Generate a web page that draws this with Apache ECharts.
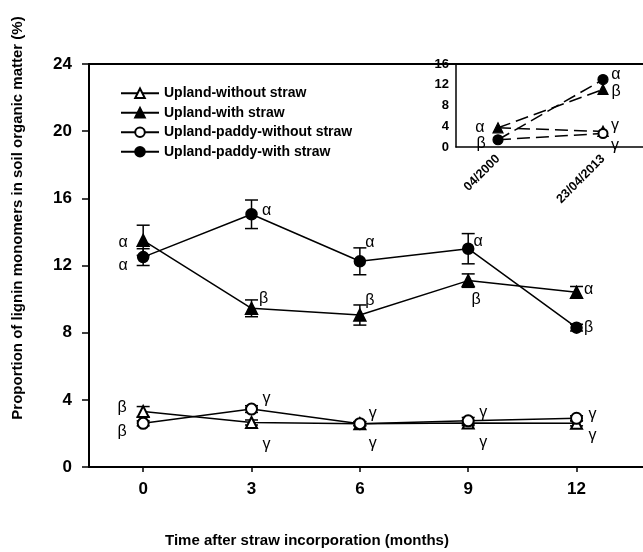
<!DOCTYPE html>
<html>
<head>
<meta charset="utf-8">
<script src="https://cdn.jsdelivr.net/npm/echarts@6/dist/echarts.min.js"></script>
<style>
  html, body { margin: 0; padding: 0; background: #fff; }
  #chart { width: 643px; height: 552px; }
</style>
</head>
<body>
<div id="chart"></div>
<script>
// data
var months = [0, 3, 6, 9, 12];
var upWithout = [3.3, 2.65, 2.58, 2.62, 2.6];
var upWithoutErr = [0.3, 0.15, 0.12, 0.15, 0.15];
var upWith = [13.5, 9.45, 9.05, 11.1, 10.4];
var upWithErr = [0.9, 0.5, 0.6, 0.4, 0.35];
var padWithout = [2.6, 3.45, 2.58, 2.75, 2.9];
var padWithoutErr = [0.15, 0.2, 0.12, 0.2, 0.15];
var padWith = [12.5, 15.05, 12.25, 13.0, 8.3];
var padWithErr = [0.5, 0.85, 0.8, 0.9, 0.2];

var upWithoutLetters = ['β', 'γ', 'γ', 'γ', 'γ'];
var upWithLetters = ['α', 'β', 'β', 'β', 'α'];
var padWithoutLetters = ['β', 'γ', 'γ', 'γ', 'γ'];
var padWithLetters = ['α', 'α', 'α', 'α', 'β'];

// inset: 04/2000 vs 23/04/2013
var insetDates = ['04/2000', '23/04/2013'];
var insetUpWithout = [3.7, 3.0];
var insetUpWith = [3.7, 11.1];
var insetPadWithout = [1.4, 2.6];
var insetPadWith = [1.4, 13.0];
var insetLetters2000 = ['α', 'β'];       // upland, upland-paddy
var insetLetters2013 = ['α', 'β', 'γ', 'γ']; // padWith, upWith, upWithout, padWithout

var names = ['Upland-without straw', 'Upland-with straw', 'Upland-paddy-without straw', 'Upland-paddy-with straw'];
var yTitle = 'Proportion of lignin monomers in soil organic matter (%)';
var xTitle = 'Time after straw incorporation (months)';

var chart = echarts.init(document.getElementById('chart'));
var FONT = 'Liberation Sans';

// label offsets (px) for the significance letters
var offs = {
    upWithout: [[-21, -4], [15, 22], [13, 20], [15, 20], [16, 12]],
    upWith: [[-20, 2], [12, -10], [10, -14], [8, 19], [12, -3]],
    padWithout: [[-21, 8], [15, -10], [13, -10], [15, -8], [16, -4]],
    padWith: [[-20, 8], [15, -4], [10, -19], [10, -7], [12, 0]]
};

function letterLabel(txt, off) {
    return {
        show: true, formatter: txt, position: 'inside', offset: off,
        color: '#000', fontSize: 16, fontFamily: FONT, fontWeight: 'normal'
    };
}

function mainData(vals, letters, off) {
    return vals.map(function (v, i) {
        return { value: [months[i], v], label: letterLabel(letters[i], off[i]) };
    });
}

function errData(vals, errs) {
    return vals.map(function (v, i) { return [months[i], v - errs[i], v + errs[i]]; });
}

function errSeries(vals, errs) {
    return {
        type: 'custom', xAxisIndex: 0, yAxisIndex: 0, z: 1, silent: true,
        data: errData(vals, errs),
        renderItem: function (params, api) {
            var lo = api.coord([api.value(0), api.value(1)]);
            var hi = api.coord([api.value(0), api.value(2)]);
            var w = 6.5;
            var st = { stroke: '#000', lineWidth: 1.5 };
            return {
                type: 'group', children: [
                    { type: 'line', shape: { x1: lo[0], y1: lo[1], x2: hi[0], y2: hi[1] }, style: st },
                    { type: 'line', shape: { x1: lo[0] - w, y1: lo[1], x2: lo[0] + w, y2: lo[1] }, style: st },
                    { type: 'line', shape: { x1: hi[0] - w, y1: hi[1], x2: hi[0] + w, y2: hi[1] }, style: st }
                ]
            };
        }
    };
}

function lineSeries(name, data, symbol, size) {
    return {
        name: name, type: 'line', xAxisIndex: 0, yAxisIndex: 0, z: 3,
        data: data, symbol: symbol, symbolSize: size, showAllSymbol: true,
        lineStyle: { color: '#000', width: 1.5 },
        itemStyle: { color: '#000', borderColor: '#000', borderWidth: 1.5 },
        emphasis: { disabled: true }
    };
}

function insetSeries(name, vals, symbol, size, lab2000, lab2013) {
    var d = vals.map(function (v, i) {
        var item = { value: [i, v] };
        if (i === 0 && !lab2000) item.symbol = 'none';
        var lab = i === 0 ? lab2000 : lab2013;
        if (lab) item.label = letterLabel(lab[0], lab[1]);
        return item;
    });
    return {
        name: name + ' ', type: 'line', xAxisIndex: 2, yAxisIndex: 1, z: 4,
        data: d, symbol: symbol, symbolSize: size, showAllSymbol: true,
        lineStyle: { color: '#000', width: 1.5, type: [13, 6] },
        itemStyle: { color: '#000', borderColor: '#000', borderWidth: 1.2 },
        emphasis: { disabled: true }
    };
}

var option = {
    backgroundColor: '#fff',
    animation: false,
    textStyle: { fontFamily: FONT },
    legend: {
        data: names, orient: 'vertical', left: 115, top: 80,
        itemWidth: 38, itemHeight: 12, itemGap: 3,
        textStyle: { fontSize: 14, fontWeight: 'bold', color: '#000', fontFamily: FONT, lineHeight: 16.5 },
        selectedMode: false
    },
    graphic: [{
        type: 'text', x: 18, y: 218, rotation: Math.PI / 2,
        style: {
            text: yTitle, fill: '#000', align: 'center', verticalAlign: 'middle',
            font: 'bold 15px "Liberation Sans"'
        }
    }, {
        type: 'text', x: 307, y: 541,
        style: {
            text: xTitle, fill: '#000', align: 'center', verticalAlign: 'middle',
            font: 'bold 15px "Liberation Sans"'
        }
    }],
    grid: [
        { left: 89, right: 0, top: 64, bottom: 85 },
        { left: 456, right: 0, top: 64, height: 83 }
    ],
    xAxis: [
        {
            type: 'value', gridIndex: 0, min: -1.5, max: 13.84,
            axisLine: { show: true, onZero: false, lineStyle: { color: '#000', width: 2 } },
            axisTick: { show: true, length: 5, customValues: months, lineStyle: { color: '#000', width: 1.5 } },
            axisLabel: { customValues: months, margin: 14, fontSize: 17, fontWeight: 'bold', color: '#000', fontFamily: FONT },
            splitLine: { show: false }
        },
        {
            type: 'value', gridIndex: 0, position: 'top', min: -1.5, max: 13.84,
            axisLine: { show: true, onZero: false, lineStyle: { color: '#000', width: 2 } },
            axisTick: { show: false }, axisLabel: { show: false }, splitLine: { show: false }
        },
        {
            type: 'value', gridIndex: 1, min: -0.4, max: 1.381,
            axisLine: { show: true, onZero: false, lineStyle: { color: '#000', width: 1.5 } },
            axisTick: { show: false },
            axisLabel: {
                customValues: [0, 1], rotate: 45, margin: 10,
                fontSize: 12.5, fontWeight: 'bold', color: '#000', fontFamily: FONT,
                formatter: function (v) { return insetDates[Math.round(v)]; }
            },
            splitLine: { show: false }
        }
    ],
    yAxis: [
        {
            type: 'value', gridIndex: 0, min: 0, max: 24, interval: 4,
            axisLine: { show: true, onZero: false, lineStyle: { color: '#000', width: 2 } },
            axisTick: { show: true, length: 7, lineStyle: { color: '#000', width: 1.5 } },
            axisLabel: { margin: 17, fontSize: 17, fontWeight: 'bold', color: '#000', fontFamily: FONT },
            splitLine: { show: false }
        },
        {
            type: 'value', gridIndex: 1, min: 0, max: 16, interval: 4,
            axisLine: { show: true, onZero: false, lineStyle: { color: '#000', width: 1.5 } },
            axisTick: { show: false },
            axisLabel: { margin: 7, fontSize: 13, fontWeight: 'bold', color: '#000', fontFamily: FONT },
            splitLine: { show: false }
        }
    ],
    series: [
        errSeries(upWithout, upWithoutErr),
        errSeries(upWith, upWithErr),
        errSeries(padWithout, padWithoutErr),
        errSeries(padWith, padWithErr),
        lineSeries(names[0], mainData(upWithout, upWithoutLetters, offs.upWithout), 'emptyTriangle', 11),
        lineSeries(names[1], mainData(upWith, upWithLetters, offs.upWith), 'triangle', 12),
        lineSeries(names[2], mainData(padWithout, padWithoutLetters, offs.padWithout), 'emptyCircle', 11),
        lineSeries(names[3], mainData(padWith, padWithLetters, offs.padWith), 'circle', 11),
        insetSeries(names[0], insetUpWithout, 'emptyTriangle', 9, null, [insetLetters2013[2], [12, -6]]),
        insetSeries(names[2], insetPadWithout, 'emptyCircle', 9, null, [insetLetters2013[3], [12, 12]]),
        insetSeries(names[1], insetUpWith, 'triangle', 10, [insetLetters2000[0], [-18, 0]], [insetLetters2013[1], [13, 2]]),
        insetSeries(names[3], insetPadWith, 'circle', 10, [insetLetters2000[1], [-17, 4]], [insetLetters2013[0], [13, -5]])
    ]
};

chart.setOption(option);
</script>
</body>
</html>
